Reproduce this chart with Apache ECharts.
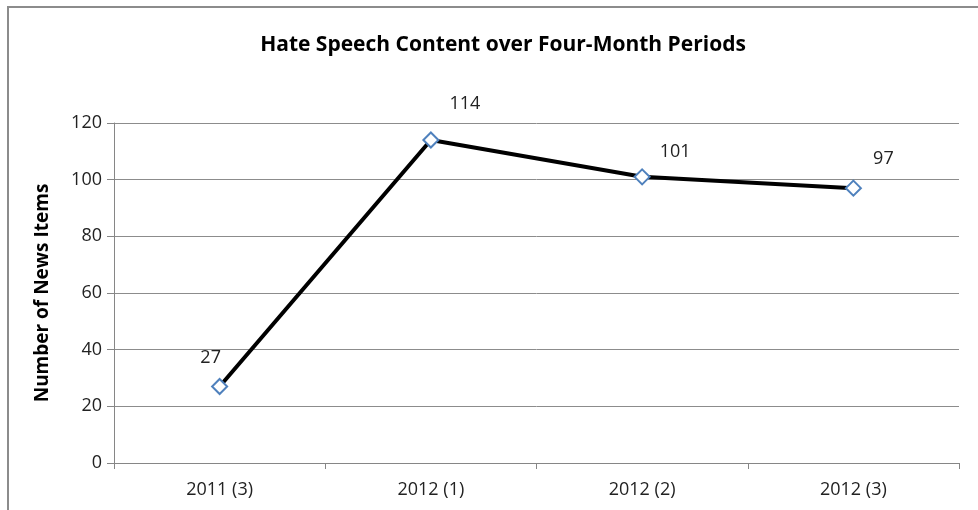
<!doctype html>
<html>
<head>
<meta charset="utf-8">
<title>Hate Speech Content</title>
<script src="https://cdn.jsdelivr.net/npm/echarts@6/dist/echarts.min.js"></script>
<style>
  html, body { margin: 0; padding: 0; background: #fff; }
  #frame { position: absolute; left: 7px; top: 6px; width: 980px; height: 520px; border: 2px solid #8c8c8c; box-sizing: border-box; }
  #chart { position: absolute; left: 0; top: 0; width: 978px; height: 510px; }
</style>
</head>
<body>
<div id="frame"></div>
<div id="chart"></div>
<script type="text/javascript">
var titleText = 'Hate Speech Content over Four-Month Periods';
var yName = 'Number of News Items';
var periods = ['2011 (3)', '2012 (1)', '2012 (2)', '2012 (3)'];
var newsItems = [27, 114, 101, 97];

// label placement roughly like the excel original
var labelOffsets = [[-9, -6], [34, -14], [33, -2], [30, -7]];

var chart = echarts.init(document.getElementById('chart'));
var font = '"Open Sans", "Liberation Sans", sans-serif';

var option = {
    backgroundColor: 'transparent',
    title: {
        text: titleText,
        left: 498,
        textAlign: 'center',
        top: 30,
        textStyle: { fontFamily: font, fontSize: 21, fontWeight: 'bold', color: '#000' }
    },
    grid: { left: 114, right: 19, top: 123, bottom: 47 },
    xAxis: {
        type: 'category',
        data: periods,
        boundaryGap: true,
        axisLine: { show: true, lineStyle: { color: '#868686', width: 1 } },
        axisTick: { show: true, alignWithLabel: false, length: 6, lineStyle: { color: '#868686' } },
        axisLabel: { fontFamily: font, fontSize: 18, color: '#222', margin: 18 }
    },
    yAxis: {
        type: 'value',
        min: 0,
        max: 120,
        interval: 20,
        name: yName,
        nameLocation: 'middle',
        nameGap: 62,
        nameTextStyle: { fontFamily: font, fontSize: 19, fontWeight: 'bold', color: '#000' },
        axisLine: { show: true, lineStyle: { color: '#868686', width: 1 } },
        axisTick: { show: true, length: 7, lineStyle: { color: '#868686' } },
        axisLabel: { fontFamily: font, fontSize: 18, color: '#222', margin: 12 },
        splitLine: { show: true, lineStyle: { color: '#8c8c8c', width: 1 } }
    },
    series: [{
        type: 'line',
        data: newsItems.map(function (v, i) {
            return { value: v, label: { offset: labelOffsets[i] } };
        }),
        symbol: 'diamond',
        symbolSize: 15,
        lineStyle: { color: '#000', width: 4 },
        itemStyle: { color: '#fff', borderColor: '#4f81bd', borderWidth: 2 },
        label: {
            show: true,
            position: 'top',
            fontFamily: font,
            fontSize: 18,
            color: '#222'
        },
        animation: false
    }],
    animation: false
};
chart.setOption(option);
</script>
</body>
</html>
